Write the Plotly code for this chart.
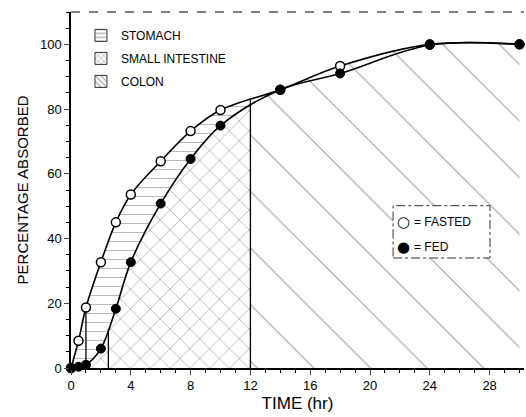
import numpy as np
import plotly.graph_objects as go

# ---------------- data ----------------
time_hr = [0, 0.5, 1, 2, 3, 4, 6, 8, 10, 14, 18, 24, 30]
fasted = [0, 8.4, 18.7, 32.7, 45, 53.6, 63.9, 73.2, 79.7, 86, 93.3, 100, 100]
fed = [0, 0.4, 1, 6, 18.3, 32.7, 50.8, 64.6, 74.9, 86, 91, 99.8, 100]

region_names = ["STOMACH", "SMALL INTESTINE", "COLON"]
region_patterns = ["-", "x", "\\"]
stomach_empty_fasted = 1.0   # hr
stomach_empty_fed = 2.5      # hr
colon_start = 12             # hr

x_ticks = [0, 4, 8, 12, 16, 20, 24, 28]
y_ticks = [0, 20, 40, 60, 80, 100]

# ---------------- derived geometry ----------------
t = np.array(time_hr, dtype=float)
fa = np.array(fasted, dtype=float)
fe = np.array(fed, dtype=float)
upper = np.maximum(fa, fe)

pre = t < colon_start
post = t > colon_start
fa_c = float(np.interp(colon_start, t, fa))
fe_c = float(np.interp(colon_start, t, fe))
up_c = max(fa_c, fe_c)

x_pre = list(t[pre]) + [colon_start]
fed_pre = list(fe[pre]) + [fe_c]
fast_pre = list(fa[pre]) + [fa_c]
x_post = [colon_start] + list(t[post])
up_post = [up_c] + list(upper[post])

FONT = "Liberation Sans, Arial, sans-serif"
fig = go.Figure()
noline = dict(width=0, color="rgba(0,0,0,0)", shape="spline")

# small intestine: under fed curve up to colon start
fig.add_trace(go.Scatter(
    x=x_pre, y=fed_pre, mode="lines", line=noline,
    fill="tozeroy", fillcolor="white",
    fillpattern=dict(shape="x", fgcolor="black", bgcolor="white", size=14, solidity=0.07),
    showlegend=False, hoverinfo="skip"))
# stomach: between fed and fasted curves
fig.add_trace(go.Scatter(
    x=x_pre, y=fast_pre, mode="lines", line=noline,
    fill="tonexty", fillcolor="white",
    fillpattern=dict(shape="-", fgcolor="#222", bgcolor="white", size=9, solidity=0.07),
    showlegend=False, hoverinfo="skip"))
# colon: under curve after colon start
fig.add_trace(go.Scatter(
    x=x_post, y=up_post, mode="lines", line=noline,
    fill="tozeroy", fillcolor="white",
    fillpattern=dict(shape="\\", fgcolor="#333", bgcolor="white", size=40, solidity=0.025),
    showlegend=False, hoverinfo="skip"))

# legend key entries for the regions (patterned swatches)
for i, (nm, pat) in enumerate(zip(region_names, region_patterns)):
    fig.add_trace(go.Bar(
        x=[None], y=[None], name=nm, legendgroup=nm, legendrank=i + 1,
        marker=dict(color="white", line=dict(color="#333", width=1),
                    pattern=dict(shape=pat, fgcolor="#222", bgcolor="white", size=5, solidity=0.25))))

# divider lines
for xv, curve in [(stomach_empty_fasted, fa), (stomach_empty_fed, fe), (colon_start, upper)]:
    fig.add_trace(go.Scatter(
        x=[xv, xv], y=[0, float(np.interp(xv, t, curve))], mode="lines",
        line=dict(color="black", width=1.3), showlegend=False, hoverinfo="skip"))

# curves
fig.add_trace(go.Scatter(
    x=time_hr, y=fasted, mode="lines+markers", line=dict(color="black", width=1.6, shape="spline"),
    marker=dict(symbol="circle", size=9, color="white", line=dict(color="black", width=1.5)),
    showlegend=False, cliponaxis=False, name="FASTED"))
fig.add_trace(go.Scatter(
    x=time_hr, y=fed, mode="lines+markers", line=dict(color="black", width=1.6, shape="spline"),
    marker=dict(symbol="circle", size=9, color="black", line=dict(color="black", width=1)),
    showlegend=False, cliponaxis=False, name="FED"))

# key for symbols
fig.add_shape(type="rect", xref="paper", yref="paper", x0=0.711, x1=0.925, y0=0.309, y1=0.456,
              line=dict(color="#333", width=1, dash="dashdot"), fillcolor="white", layer="above")
for yv, sym, label in [(0.411, "○", "= FASTED"), (0.341, "●", "= FED")]:
    fig.add_annotation(xref="paper", yref="paper", x=0.735, y=yv, xanchor="center", yanchor="middle",
                       text=sym, showarrow=False, font=dict(family="DejaVu Sans", size=15, color="black"))
    fig.add_annotation(xref="paper", yref="paper", x=0.753, y=yv, xanchor="left", yanchor="middle",
                       text=label, showarrow=False, font=dict(family=FONT, size=12, color="black"))
# top frame
fig.add_shape(type="line", xref="paper", yref="paper", x0=0, x1=1, y0=1, y1=1,
              line=dict(color="black", width=1, dash="dash"))

fig.update_layout(
    width=526, height=417,
    margin=dict(l=71, r=2, t=12, b=49),
    paper_bgcolor="white", plot_bgcolor="white",
    font=dict(family=FONT, size=13, color="black"),
    showlegend=True,
    legend=dict(x=0.022, y=0.975, xanchor="left", yanchor="top", bgcolor="rgba(0,0,0,0)",
                font=dict(family=FONT, size=12, color="black"), itemwidth=30,
                traceorder="grouped", tracegroupgap=4),
    xaxis=dict(range=[0, 30.3], tickvals=x_ticks, ticks="outside", ticklen=5, tickwidth=1.2,
               showline=True, linecolor="black", linewidth=1.5, showgrid=False, zeroline=False,
               minor=dict(dtick=1, ticks="outside", ticklen=3, tickcolor="black"),
               title=dict(text="TIME (hr)", font=dict(family=FONT, size=17), standoff=5),
               tickfont=dict(family=FONT, size=13)),
    yaxis=dict(range=[0, 110], tickvals=y_ticks, ticks="outside", ticklen=5, tickwidth=1.2,
               showline=True, linecolor="black", linewidth=1.5, showgrid=False, zeroline=False,
               minor=dict(dtick=5, ticks="outside", ticklen=3, tickcolor="black"),
               title=dict(text="PERCENTAGE ABSORBED", font=dict(family=FONT, size=15), standoff=8),
               tickfont=dict(family=FONT, size=13)),
)

fig.write_html("out.html")
